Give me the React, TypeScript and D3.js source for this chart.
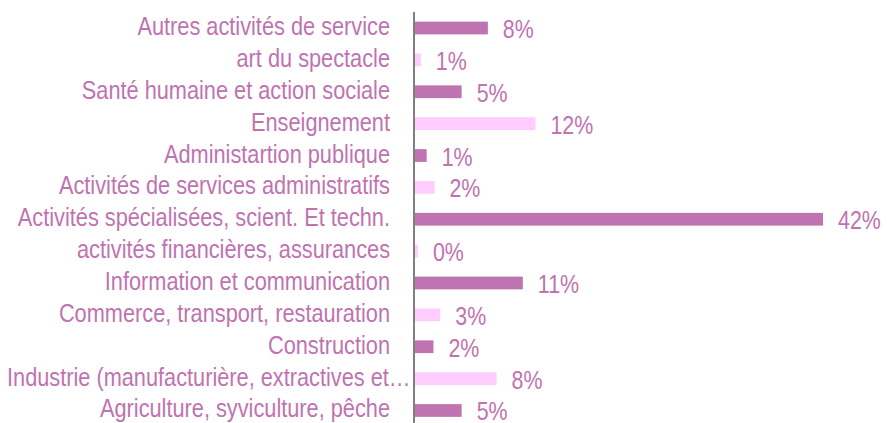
import React from "react";
import * as d3 from "d3";

const categories = [
  "Autres activités de service",
  "art du spectacle",
  "Santé humaine et action sociale",
  "Enseignement",
  "Administartion publique",
  "Activités de services administratifs",
  "Activités spécialisées, scient. Et techn.",
  "activités financières, assurances",
  "Information et communication",
  "Commerce, transport, restauration",
  "Construction",
  "Industrie (manufacturière, extractives et…",
  "Agriculture, syviculture, pêche",
];
const values = [7.5, 0.6, 4.8, 12.4, 1.2, 2.0, 42.0, 0.3, 11.1, 2.6, 1.9, 8.4, 4.8];
const shades = ["dark", "light", "dark", "light", "dark", "light", "dark", "light", "dark", "light", "dark", "light", "dark"];

const W = 887;
const H = 423;
const DARK = "#BF73B0";
const LIGHT = "#FFCCFF";
const TEXT = "#BF73B0";
const FONT = "'Liberation Sans', Arial, sans-serif";
const SX = 0.87;

export default function App() {
  const axisX = 414;
  const x = d3.scaleLinear().domain([0, 42]).range([axisX + 1, 823]);
  const y = d3.scaleBand().domain(categories).range([5.7, 432.8]).paddingInner(0.6).paddingOuter(0.5);
  const bh = y.bandwidth();
  return (
    <svg width={W} height={H} style={{ position: "absolute", left: 0, top: 0, background: "#fff" }}>
      {categories.map((c, i) => {
        const yc = (y(c) as number) + bh / 2;
        const truncated = c.endsWith("…");
        return (
          <g key={c}>
            <rect x={x(0)} y={y(c)} width={x(values[i]) - x(0)} height={bh} fill={shades[i] === "dark" ? DARK : LIGHT} />
            <text
              transform={truncated ? `translate(7,${yc + 7}) scale(${SX},1)` : `translate(${axisX - 24},${yc + 7}) scale(${SX},1)`}
              textAnchor={truncated ? "start" : "end"}
              fill={TEXT}
              fontFamily={FONT}
              fontSize={25}
            >
              {c}
            </text>
            <text
              transform={`translate(${x(values[i]) + 15},${yc + 10}) scale(0.84,1)`}
              fill={TEXT}
              fontFamily={FONT}
              fontSize={25.5}
            >
              {Math.round(values[i]) + "%"}
            </text>
          </g>
        );
      })}
      <line x1={axisX} x2={axisX} y1={12} y2={H} stroke="#808080" strokeWidth={2} />
    </svg>
  );
}
